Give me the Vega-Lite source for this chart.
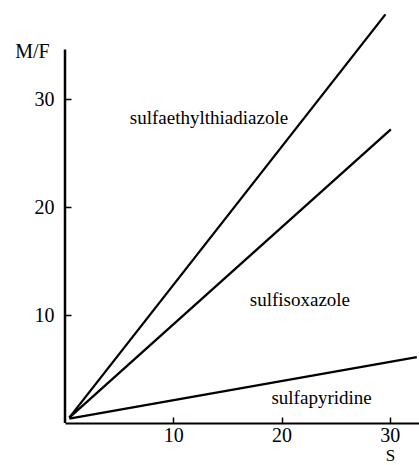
{
  "$schema": "https://vega.github.io/schema/vega-lite/v6.json",
  "width": 354,
  "height": 421,
  "autosize": {"type": "none"},
  "padding": {"left": 65, "top": 2, "right": 0, "bottom": 42},
  "background": "white",
  "config": {
    "view": {"stroke": null},
    "font": "Liberation Serif",
    "axis": {"grid": false, "labelFont": "Liberation Serif", "titleFont": "Liberation Serif", "labelColor": "black", "titleColor": "black", "tickColor": "black", "domainColor": "black"}
  },
  "datasets": {
    "lines": [
      {"drug": "sulfaethylthiadiazole", "S": 0.4, "MF": 0.5},
      {"drug": "sulfaethylthiadiazole", "S": 29.6, "MF": 37.85},
      {"drug": "sulfisoxazole", "S": 0.4, "MF": 0.5},
      {"drug": "sulfisoxazole", "S": 30.1, "MF": 27.2},
      {"drug": "sulfapyridine", "S": 0.4, "MF": 0.4},
      {"drug": "sulfapyridine", "S": 32.5, "MF": 6.1}
    ],
    "labels": [
      {"drug": "sulfaethylthiadiazole", "S": 13.3, "MF": 27.7},
      {"drug": "sulfisoxazole", "S": 21.7, "MF": 10.8},
      {"drug": "sulfapyridine", "S": 23.7, "MF": 1.76}
    ],
    "yaxis": [
      {"S": 0, "MF": 0, "MF2": 34.6}
    ]
  },
  "layer": [
    {
      "data": {"name": "yaxis"},
      "mark": {"type": "rule", "color": "black", "strokeWidth": 2.5},
      "encoding": {
        "x": {"field": "S", "type": "quantitative", "scale": {"domain": [0, 32.7], "nice": false, "zero": false},
              "axis": {"values": [10, 20, 30], "tickSize": -6, "tickWidth": 1.5, "domainWidth": 2.2, "labelFontSize": 20, "labelPadding": 8, "title": "S", "titleFontSize": 17, "titleFontWeight": "normal", "titleX": 325, "titleY": 37, "titleBaseline": "alphabetic", "titleAlign": "center"}},
        "y": {"field": "MF", "type": "quantitative", "scale": {"domain": [0, 39], "nice": false, "zero": false},
              "axis": {"values": [10, 20, 30], "domain": false, "tickSize": -6, "tickWidth": 1.5, "labelFontSize": 20, "labelPadding": 17, "title": "M/F", "titleFontSize": 20, "titleFontWeight": "normal", "titleAngle": 0, "titleX": -33, "titleY": 55, "titleAlign": "center", "titleBaseline": "alphabetic"}},
        "y2": {"field": "MF2"}
      }
    },
    {
      "data": {"name": "lines"},
      "mark": {"type": "line", "color": "black", "strokeWidth": 2.3},
      "encoding": {
        "x": {"field": "S", "type": "quantitative"},
        "y": {"field": "MF", "type": "quantitative"},
        "detail": {"field": "drug"}
      }
    },
    {
      "data": {"name": "labels"},
      "mark": {"type": "text", "fontSize": 19, "align": "center", "baseline": "alphabetic", "color": "black"},
      "encoding": {
        "x": {"field": "S", "type": "quantitative"},
        "y": {"field": "MF", "type": "quantitative"},
        "text": {"field": "drug"}
      }
    }
  ]
}
